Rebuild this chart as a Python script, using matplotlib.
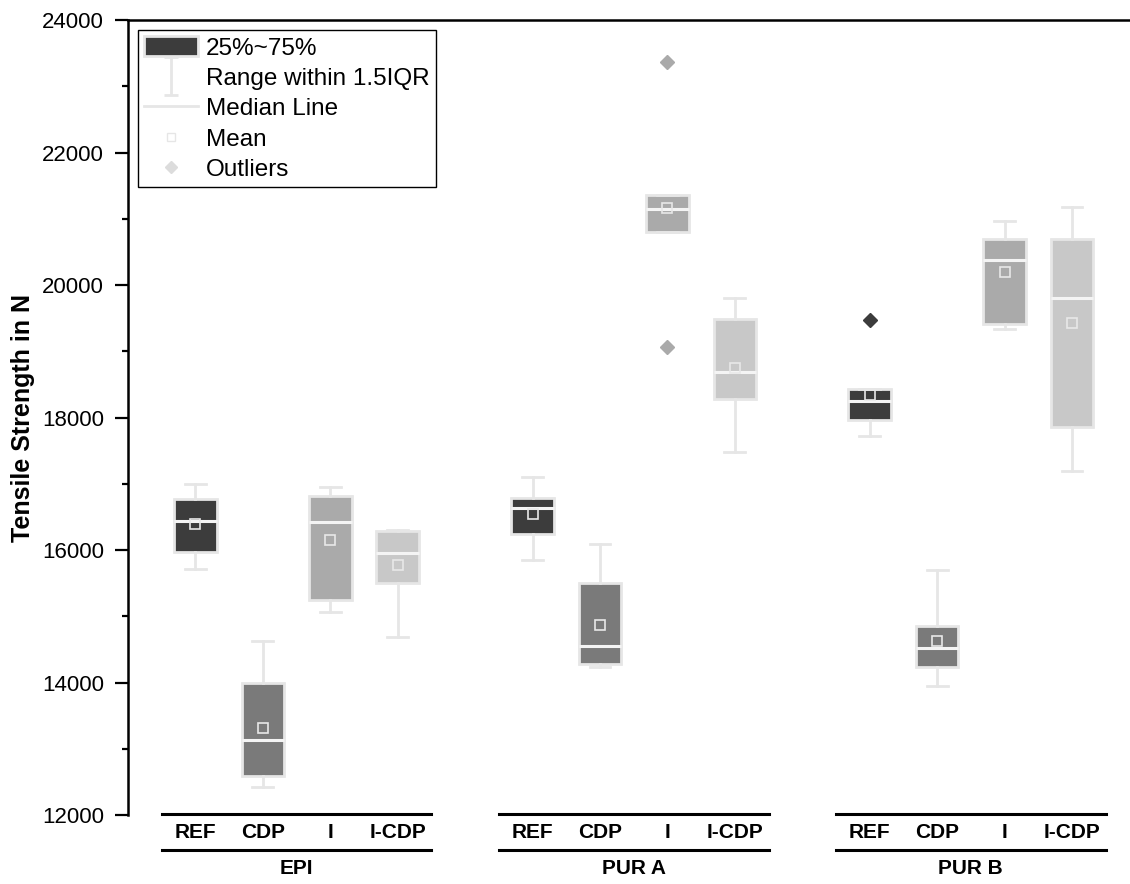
import matplotlib
matplotlib.use("Agg")
import matplotlib.pyplot as plt
from matplotlib.patches import Patch
from matplotlib.lines import Line2D
from matplotlib.path import Path
import matplotlib.transforms as mtransforms

plt.rcParams['font.family'] = ['Liberation Sans', 'DejaVu Sans']

# Data
groups = ['EPI', 'PUR A', 'PUR B']
categories = ['REF', 'CDP', 'I', 'I-CDP']
positions = [1, 2, 3, 4, 6, 7, 8, 9, 11, 12, 13, 14]

whislo = [15710, 12420, 15060, 14690, 15850, 14230, 20800, 17480, 17720, 13950, 19340, 17190]
q1     = [15970, 12590, 15240, 15500, 16240, 14280, 20800, 18280, 17960, 14230, 19410, 17860]
med    = [16440, 13130, 16420, 15955, 16630, 14550, 21150, 18690, 18250, 14520, 20380, 19800]
q3     = [16770, 13990, 16810, 16290, 16790, 15500, 21360, 19490, 18430, 14850, 20700, 20700]
whishi = [17000, 14630, 16950, 16300, 17100, 16090, 21360, 19800, 18430, 15700, 20970, 21180]
means  = [16390, 13310, 16150, 15770, 16540, 14870, 21155, 18750, 18345, 14625, 20195, 19430]
fliers = [[], [], [], [], [], [], [23370, 19065], [], [19470], [], [], []]

cat_colors = ['#3c3c3c', '#7a7a7a', '#aaaaaa', '#c8c8c8']
edge = '#e6e6e6'

fig = plt.figure(figsize=(11.3, 8.84), dpi=100)
ax = fig.add_axes([128 / 1130, 69 / 884, 1 - 128 / 1130, 795 / 884])

stats = []
for i in range(len(positions)):
    stats.append(dict(whislo=whislo[i], q1=q1[i], med=med[i], q3=q3[i],
                      whishi=whishi[i], mean=means[i], fliers=fliers[i]))

for i, st in enumerate(stats):
    c = cat_colors[i % 4]
    ax.bxp([st], positions=[positions[i]], widths=0.63, capwidths=0.31,
           patch_artist=True, showmeans=True, showfliers=True,
           boxprops=dict(facecolor=c, edgecolor=edge, linewidth=2),
           whiskerprops=dict(color=edge, linewidth=2),
           capprops=dict(color=edge, linewidth=2),
           medianprops=dict(color='#f4f4f4', linewidth=2.2),
           meanprops=dict(marker='s', markersize=7, markerfacecolor='none',
                          markeredgecolor='#e8e8e8', markeredgewidth=1.2),
           flierprops=dict(marker='D', markersize=7, markerfacecolor=c,
                           markeredgecolor=c))

ax.set_xlim(0, 14.86)
ax.set_ylim(12000, 24000)
ax.set_yticks(range(12000, 24001, 2000))
ax.set_yticks(range(13000, 24000, 2000), minor=True)
ax.tick_params(axis='y', which='major', direction='out', length=9.4, width=1.6,
               labelsize=16, pad=8)
ax.tick_params(axis='y', which='minor', direction='out', length=4.5, width=1.6)
ax.set_xticks([])
for s in ['right', 'bottom']:
    ax.spines[s].set_visible(False)
for s in ['left', 'top']:
    ax.spines[s].set_linewidth(1.8)
ax.set_ylabel('Tensile Strength in N', fontsize=18, fontweight='bold', labelpad=5)

# category / group labels under the axis
trans = mtransforms.blended_transform_factory(ax.transData, fig.transFigure)
for g, name in enumerate(groups):
    start = positions[g * 4]
    end = positions[g * 4 + 3]
    for y in [70 / 884, 34 / 884]:
        ax.add_line(Line2D([start - 0.5, end + 0.5], [y, y], transform=trans,
                           color='black', linewidth=2.2, clip_on=False))
    for k, cat in enumerate(categories):
        ax.text(positions[g * 4 + k], 52 / 884, cat, transform=trans, ha='center',
                va='center', fontsize=15, fontweight='bold')
    ax.text((start + end) / 2, 16 / 884, name, transform=trans, ha='center',
            va='center', fontsize=15, fontweight='bold')

# legend
range_marker = Path([(-0.35, 1), (0.35, 1), (0, 1), (0, -1), (-0.35, -1), (0.35, -1)],
                    [Path.MOVETO, Path.LINETO, Path.MOVETO, Path.LINETO,
                     Path.MOVETO, Path.LINETO])
handles = [
    Patch(facecolor='#3c3c3c', edgecolor=edge, linewidth=2),
    Line2D([], [], linestyle='none', marker=range_marker, markersize=28,
           markeredgecolor=edge, markerfacecolor='none', markeredgewidth=2),
    Line2D([], [], color=edge, linewidth=2),
    Line2D([], [], linestyle='none', marker='s', markersize=6,
           markerfacecolor='none', markeredgecolor=edge, markeredgewidth=1),
    Line2D([], [], linestyle='none', marker='D', markersize=6,
           markerfacecolor='#dcdcdc', markeredgecolor='#dcdcdc'),
]
labels = ['25%~75%', 'Range within 1.5IQR', 'Median Line', 'Mean', 'Outliers']
leg = ax.legend(handles, labels, loc='upper left', bbox_to_anchor=(0.01, 0.987),
                borderaxespad=0, fontsize=17.5, fancybox=False, framealpha=1,
                edgecolor='black', handlelength=2.2, handletextpad=0.35,
                handleheight=0.85, labelspacing=0.3, borderpad=0.25)
leg.get_frame().set_linewidth(1)

fig.savefig('out.png', dpi=100)
